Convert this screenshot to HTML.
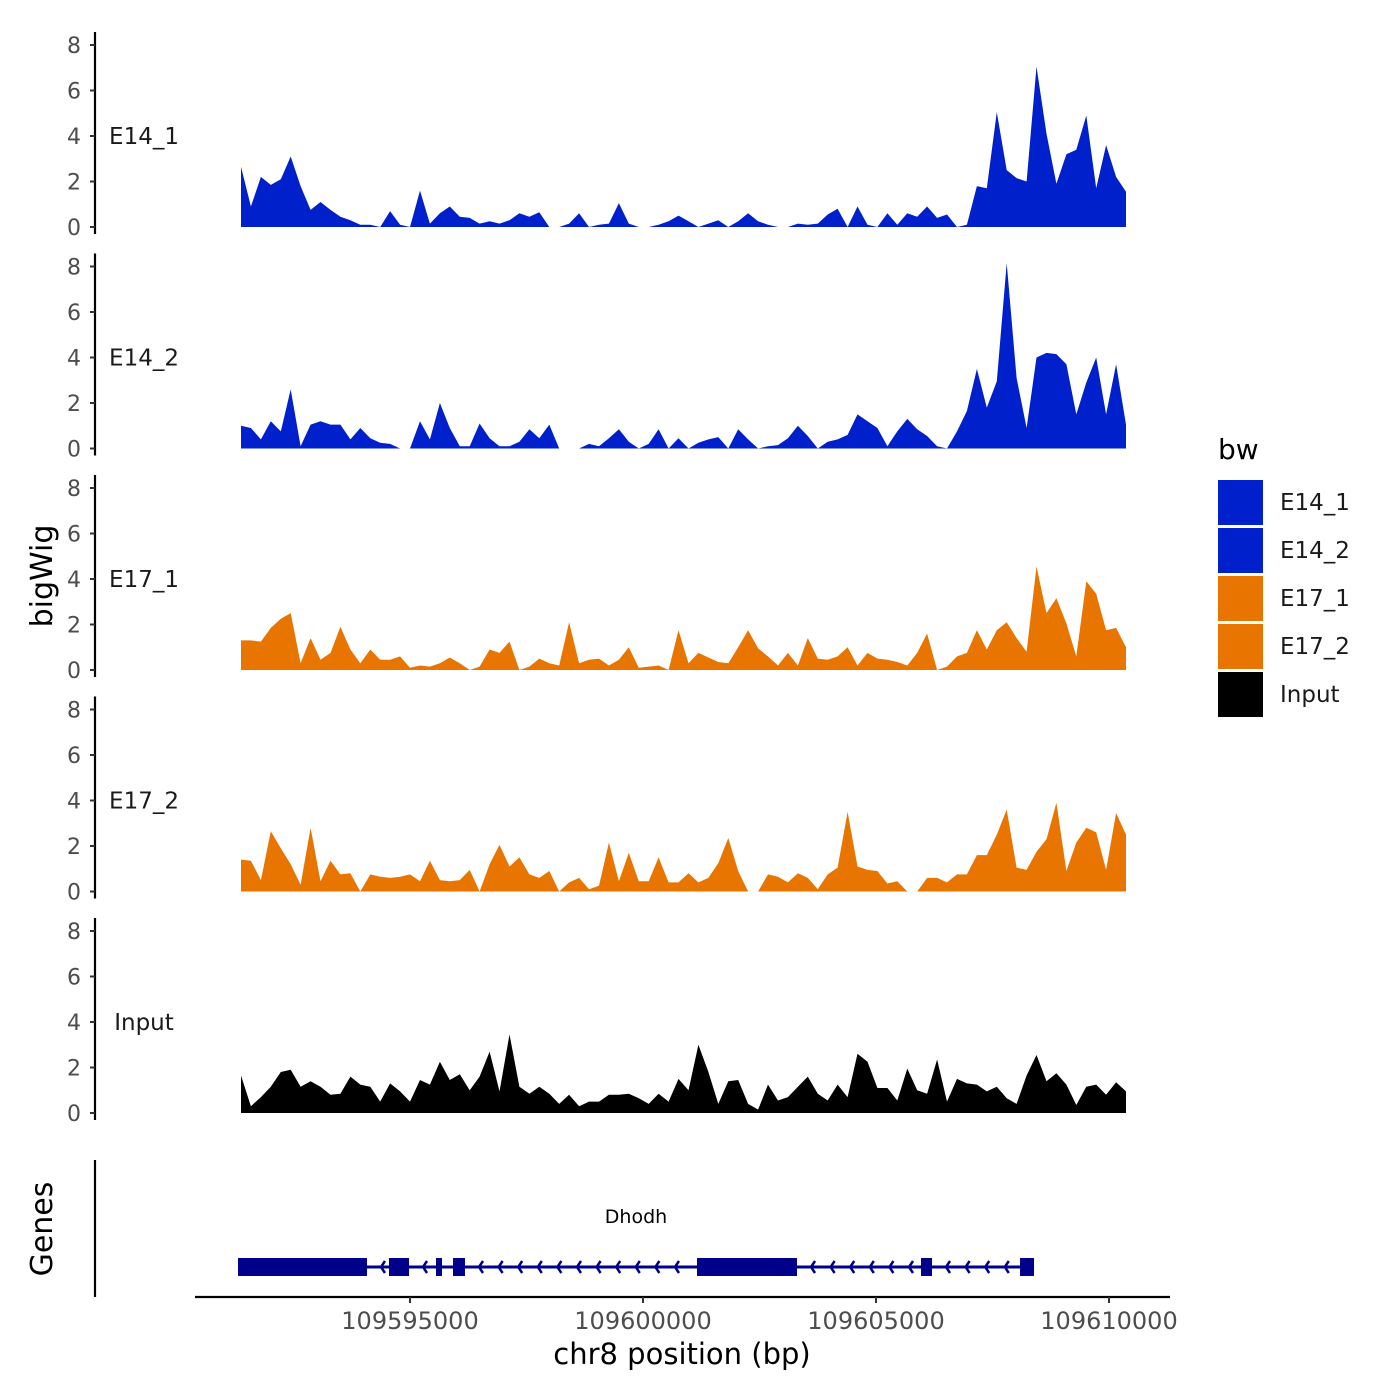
<!DOCTYPE html>
<html><head><meta charset="utf-8"><style>
html,body{margin:0;padding:0;background:#fff}
svg{display:block;font-family:"DejaVu Sans","Liberation Sans",sans-serif}
</style></head><body>
<svg id="chart" width="1400" height="1400" viewBox="0 0 1400 1400" xmlns="http://www.w3.org/2000/svg">
<rect width="1400" height="1400" fill="#fff"/>
<g id="panels"></g>
<g id="genes"></g>
<g id="xaxis"></g>
<text x="0" y="0" transform="translate(52,576) rotate(-90)" text-anchor="middle" font-size="30" fill="#000">bigWig</text>
<text x="0" y="0" transform="translate(52,1229) rotate(-90)" text-anchor="middle" font-size="30" fill="#000">Genes</text>
<text x="682" y="1364" text-anchor="middle" font-size="29" fill="#000">chr8 position (bp)</text>
<g id="legend"></g>
</svg>
<script>
const trackNames = ["E14_1","E14_2","E17_1","E17_2","Input"];
const trackColors = ["#0020cc","#0020cc","#e87500","#e87500","#000000"];
const binStart = 109591373;
const binStep = 213.4;
const e14_1 = [2.65,0.9,2.2,1.85,2.1,3.1,1.8,0.75,1.1,0.75,0.45,0.3,0.1,0.1,0,0.7,0.1,0,1.6,0.15,0.6,0.9,0.45,0.4,0.15,0.25,0.15,0.3,0.6,0.45,0.65,0,0,0.15,0.6,0,0.1,0.15,1.05,0.15,0,0,0.1,0.25,0.5,0.25,0,0.15,0.3,0,0.25,0.6,0.25,0.1,0,0,0.15,0.1,0.15,0.55,0.8,0,0.9,0.1,0,0.6,0.1,0.6,0.45,0.9,0.4,0.55,0,0.1,1.8,1.7,5.05,2.5,2.15,2.0,7.05,4.1,1.9,3.2,3.4,4.9,1.7,3.6,2.2,1.55];
const e14_2 = [1.0,0.9,0.4,1.2,0.75,2.6,0.1,1.05,1.2,1.05,1.05,0.4,0.9,0.45,0.25,0.2,0,0,1.2,0.4,2.0,0.9,0.1,0.1,1.1,0.45,0.1,0.1,0.3,0.85,0.45,1.05,0,0,0,0.2,0.1,0.45,0.85,0.3,0,0.2,0.85,0,0.45,0,0.25,0.4,0.5,0,0.85,0.4,0,0.1,0.15,0.45,1.0,0.55,0,0.3,0.4,0.6,1.5,1.2,0.9,0.1,0.75,1.3,0.85,0.55,0.1,0,0.75,1.65,3.5,1.8,2.95,8.15,3.1,0.9,4.0,4.2,4.15,3.7,1.5,2.9,4.0,1.5,3.7,1.05];
const e17_1 = [1.3,1.3,1.25,1.85,2.25,2.5,0.3,1.4,0.45,0.75,1.9,0.9,0.3,0.9,0.45,0.45,0.6,0.1,0.2,0.15,0.3,0.55,0.3,0,0.15,0.9,0.75,1.25,0,0.15,0.5,0.3,0.2,2.1,0.3,0.45,0.5,0.2,0.45,1.0,0.1,0.15,0.2,0,1.75,0.3,0.75,0.55,0.35,0.3,1.0,1.75,0.95,0.6,0.2,0.75,0.2,1.4,0.5,0.45,0.6,1.0,0.2,0.75,0.5,0.45,0.35,0.2,0.75,1.6,0,0.15,0.6,0.75,1.75,0.9,1.75,2.1,1.4,0.8,4.55,2.5,3.15,2.05,0.6,3.9,3.35,1.75,1.85,1.0];
const e17_2 = [1.4,1.35,0.5,2.65,1.9,1.2,0.3,2.8,0.45,1.35,0.75,0.8,0,0.75,0.65,0.6,0.65,0.75,0.45,1.35,0.5,0.45,0.5,0.95,0,1.2,2.05,1.1,1.5,0.75,0.6,0.9,0,0.4,0.6,0.1,0.25,2.15,0.45,1.7,0.45,0.45,1.5,0.4,0.4,0.8,0.4,0.6,1.25,2.35,0.9,0,0,0.75,0.65,0.4,0.8,0.6,0.1,0.75,1.05,3.5,1.1,0.95,0.9,0.35,0.45,0,0,0.6,0.6,0.4,0.75,0.75,1.6,1.6,2.5,3.6,1.05,0.95,1.75,2.3,3.9,0.9,2.15,2.8,2.6,0.95,3.45,2.5];
const input = [1.65,0.3,0.7,1.15,1.8,1.9,1.15,1.4,1.15,0.8,0.85,1.6,1.25,1.15,0.5,1.3,0.95,0.5,1.45,1.25,2.25,1.45,1.7,1.0,1.6,2.7,0.95,3.45,1.15,0.85,1.15,0.85,0.4,0.8,0.3,0.5,0.5,0.8,0.8,0.85,0.65,0.4,0.85,0.5,1.5,1.0,3.0,1.8,0.4,1.4,1.45,0.4,0.15,1.25,0.55,0.7,1.15,1.6,0.85,0.55,1.25,0.7,2.6,2.25,1.1,1.1,0.55,1.95,1.0,0.85,2.35,0.5,1.5,1.3,1.25,0.95,1.15,0.65,0.4,1.65,2.55,1.4,1.75,1.25,0.35,1.15,1.25,0.8,1.35,0.95];
const yTicks = [0,2,4,6,8];
const xTicks = [109595000,109600000,109605000,109610000];
const exonStarts = [109591309,109594549,109595558,109595923,109601159,109605966,109608091];
const exonEnds = [109594077,109594979,109595687,109596180,109603305,109606202,109608391];
const geneStart = 109591309, geneEnd = 109608391, geneName = "Dhodh";

const NS = "http://www.w3.org/2000/svg";
function mk(tag, attrs, parent){const e=document.createElementNS(NS,tag);for(const k in attrs)e.setAttribute(k,attrs[k]);parent.appendChild(e);return e;}
const xScale = bp => 410 + (bp - 109595000) * 233 / 5000;
const panelZero = k => 227 + 221.5 * k;
const yScale = (k, v) => panelZero(k) - v * 22.75;
const series = [e14_1, e14_2, e17_1, e17_2, input];

const panels = document.getElementById('panels');
series.forEach((vals, k) => {
  const g = mk('g', {}, panels);
  
  
  const z = panelZero(k);
  const ax = mk('line', {x1:95,x2:95,y1:z-195,y2:z+7,stroke:'#000','stroke-width':2.2}, g);
  
  
  yTicks.forEach(t => {
    const y = yScale(k, t);
    const tk = mk('line', {x1:90,x2:95,y1:y,y2:y,stroke:'#333','stroke-width':2}, g);
    
    
    const tl = mk('text', {x:81,y:y+8,'text-anchor':'end','font-size':22,fill:'#4d4d4d'}, g);
    
    
    tl.textContent = t;
  });
  const lbl = mk('text', {x:144,y:yScale(k,4)+8,'text-anchor':'middle','font-size':23,fill:'#1a1a1a'}, g);
  
  
  lbl.textContent = trackNames[k];
  let d = 'M' + xScale(binStart).toFixed(1) + ',' + z;
  vals.forEach((v, i) => { d += 'L' + xScale(binStart + i * binStep).toFixed(1) + ',' + yScale(k, v).toFixed(1); });
  d += 'L' + xScale(binStart + (vals.length - 1) * binStep).toFixed(1) + ',' + z + 'Z';
  const area = mk('path', {d:d, fill:trackColors[k]}, g);
  
  
});

// genes
const gg = document.getElementById('genes');
const gax = mk('line', {x1:95,x2:95,y1:1160,y2:1297,stroke:'#000','stroke-width':2.2}, gg);


const gy = 1267;
const gl = mk('line', {x1:xScale(geneStart),x2:xScale(geneEnd),y1:gy,y2:gy,stroke:'#00008b','stroke-width':3}, gg);


for (let i = 0; i < exonStarts.length - 1; i++) {
  const a = xScale(exonEnds[i]), b = xScale(exonStarts[i+1]);
  for (let x = a + 14; x < b - 6; x += 19.6) {
    const ch = mk('path', {d:'M'+(x+4)+','+(gy-6)+'L'+x+','+gy+'L'+(x+4)+','+(gy+6),fill:'none',stroke:'#00008b','stroke-width':2.5}, gg);
    
    
  }
}
exonStarts.forEach((s, i) => {
  const r = mk('rect', {x:xScale(s),y:gy-9,width:xScale(exonEnds[i])-xScale(s),height:18,fill:'#00008b'}, gg);
  
  
});
const gn = mk('text', {x:636,y:1223,'text-anchor':'middle','font-size':19,fill:'#000'}, gg);


gn.textContent = geneName;

// x axis
const xa = document.getElementById('xaxis');
const xl = mk('line', {x1:195,x2:1170,y1:1297,y2:1297,stroke:'#000','stroke-width':2.2}, xa);


xTicks.forEach(t => {
  const x = xScale(t);
  const tk = mk('line', {x1:x,x2:x,y1:1297,y2:1303,stroke:'#333','stroke-width':2}, xa);
  
  
  const tl = mk('text', {x:x,y:1329,'text-anchor':'middle','font-size':24,fill:'#4d4d4d'}, xa);
  
  
  tl.textContent = t;
});

// legend
const lg = document.getElementById('legend');
const lt = mk('text', {x:1218,y:459,'font-size':28,fill:'#000'}, lg);


lt.textContent = 'bw';
trackNames.forEach((n, i) => {
  const y = 480 + i * 48;
  const r = mk('rect', {x:1218,y:y,width:45,height:45,fill:trackColors[i]}, lg);
  
  
  const t = mk('text', {x:1280,y:y+30,'font-size':23,fill:'#1a1a1a'}, lg);
  
  
  t.textContent = n;
});
</script>
</body></html>
